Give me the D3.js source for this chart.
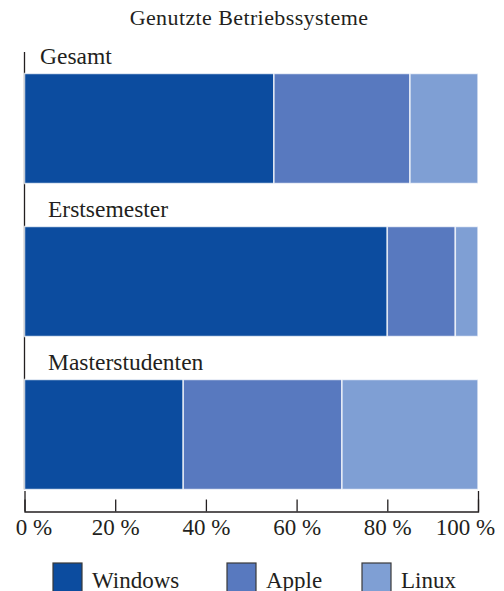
<!DOCTYPE html>
<html><head><meta charset="utf-8">
<script src="https://cdn.jsdelivr.net/npm/d3@7"></script>
<style>body{margin:0;background:#fff}svg{display:block}text{font-family:"Liberation Serif","DejaVu Serif",serif;fill:#231f20}</style>
</head><body>
<script>
const title = "Genutzte Betriebssysteme";
const categories = ["Gesamt", "Erstsemester", "Masterstudenten"];
const seriesNames = ["Windows", "Apple", "Linux"];
const windows = [55, 80, 35];
const apple = [30, 15, 35];
const linux = [15, 5, 30];
const tickValues = [0, 20, 40, 60, 80, 100];
const tickLabels = ["0 %", "20 %", "40 %", "60 %", "80 %", "100 %"];
const colors = ["#0c4c9f", "#5879bf", "#7f9fd4"];

const W = 504, H = 591;
const svg = d3.select("body").append("svg").attr("width", W).attr("height", H);

const rows = categories.map((c, i) => ({cat: c, Windows: windows[i], Apple: apple[i], Linux: linux[i]}));
const stack = d3.stack().keys(seriesNames)(rows);

const x = d3.scaleLinear().domain([0, 100]).range([24.5, 478]);
const y = d3.scaleBand().domain(categories).range([73.5, 489.5]).paddingInner(0.281).paddingOuter(0);

// title
svg.append("text").attr("x", 249).attr("y", 25).attr("text-anchor", "middle")
  .style("font-size", "22px").style("letter-spacing", "0.4px").text(title);

// y axis line
svg.append("line").attr("x1", 24.5).attr("x2", 24.5)
  .attr("y1", y(categories[0]) - 21.5).attr("y2", y(categories[2]) + y.bandwidth())
  .attr("stroke", "#231f20").attr("stroke-width", 1.3);

// bars
const g = svg.append("g");
stack.forEach((s, si) => {
  g.selectAll(null).data(s).join("rect")
    .attr("x", d => x(d[0]))
    .attr("y", d => y(d.data.cat))
    .attr("width", d => x(d[1]) - x(d[0]))
    .attr("height", y.bandwidth())
    .attr("fill", colors[si])
    .attr("stroke", "rgba(255,255,255,0.75)")
    .attr("stroke-width", 1.5);
});

// category labels
svg.selectAll(".cl").data(categories).join("text").attr("class", "cl")
  .attr("x", (d, i) => i === 0 ? 40 : 48)
  .attr("y", d => y(d) - 9.5)
  .style("font-size", "23.5px").text(d => d);

// x axis
const ax = svg.append("g").attr("transform", "translate(0,511.5)")
  .call(d3.axisBottom(x).tickValues(tickValues).tickFormat((d, i) => tickLabels[i])
    .tickSizeInner(-12).tickSizeOuter(-20.5).tickPadding(7.5));
ax.select(".domain").attr("stroke", "#231f20").attr("stroke-width", 1.3);
ax.selectAll(".tick line").attr("stroke", "#231f20").attr("stroke-width", 1.3);
ax.selectAll(".tick text").style("font-size", "23px").attr("fill", "#231f20")
  .style("font-family", '"Liberation Serif","DejaVu Serif",serif')
  .attr("dx", (d, i) => i === 0 ? 9 : (i === tickValues.length - 1 ? -13 : 0));

// legend
const legX = [53, 227, 362];
const lg = svg.selectAll(".lg").data(seriesNames).join("g").attr("class", "lg")
  .attr("transform", (d, i) => `translate(${legX[i]},563)`);
lg.append("rect").attr("width", 29).attr("height", 29)
  .attr("fill", (d, i) => colors[i]).attr("stroke", "#3a3a3a").attr("stroke-width", 1.2);
lg.append("text").attr("x", 39).attr("y", 24.5).style("font-size", "23px").text(d => d);
</script>
</body></html>
